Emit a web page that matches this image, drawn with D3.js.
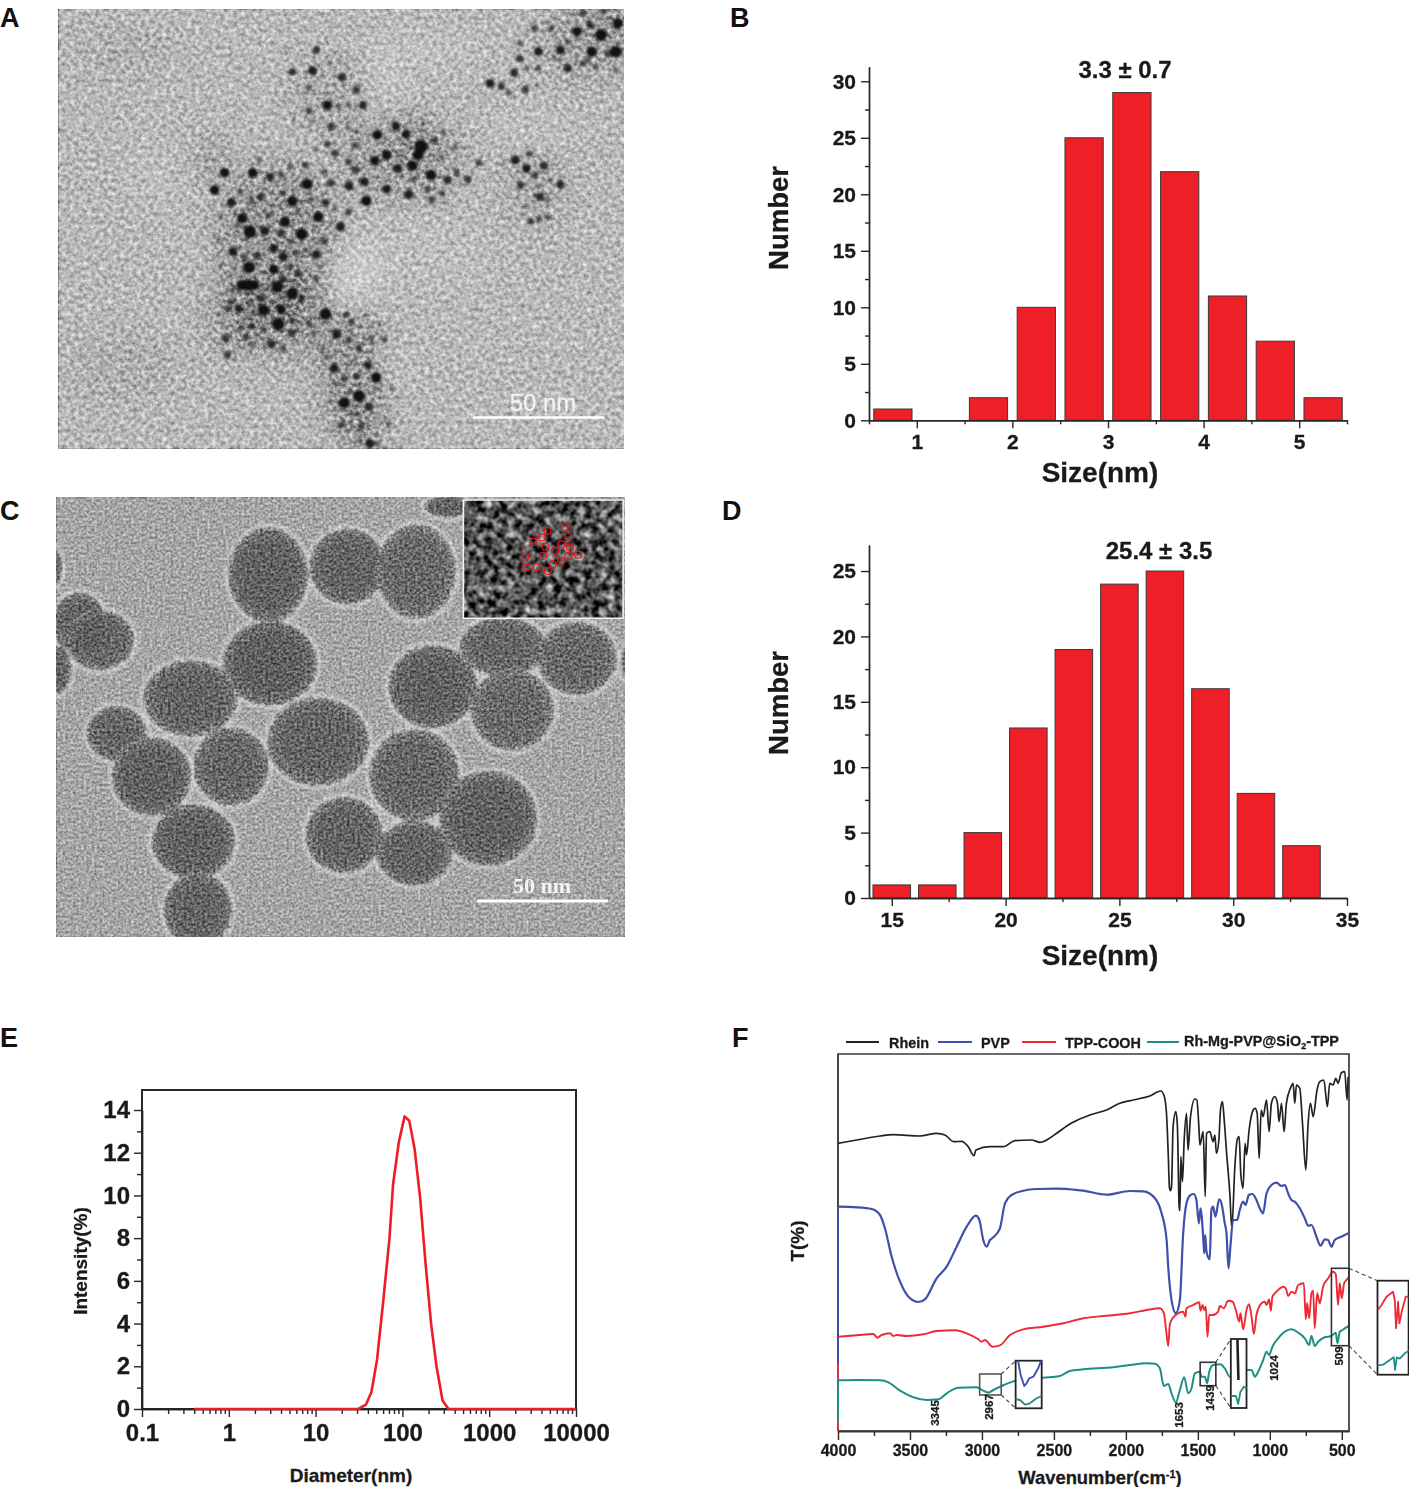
<!DOCTYPE html>
<html>
<head>
<meta charset="utf-8">
<script src="https://cdnjs.cloudflare.com/ajax/libs/d3/7.8.5/d3.min.js"></script>
<style>
    body { margin: 0; background: #fff; }
    svg { display: block; font-family: "Liberation Sans", Arial, sans-serif; }
    .tick text, .label { font-weight: bold; fill: #1a1a1a; stroke: #1a1a1a; stroke-width: 0.3; }
    .axis path, .axis line { stroke: #262626; stroke-width: 1.4; }
</style>
</head>
<body>
<svg id="chart" width="1409" height="1487"></svg>
<script>
// histogram B
const sizeBinsB = [0.75, 1.25, 1.75, 2.25, 2.75, 3.25, 3.75, 4.25, 4.75, 5.25];
const countsB = [1, 0, 2, 10, 25, 29, 22, 11, 7, 2];
const xTicksB = [1, 2, 3, 4, 5];
const yTicksB = [0, 5, 10, 15, 20, 25, 30];

// histogram D
const sizeBinsD = [15, 17, 19, 21, 23, 25, 27, 29, 31, 33];
const countsD = [1, 1, 5, 13, 19, 24, 25, 16, 8, 4];
const xTicksD = [15, 20, 25, 30, 35];
const yTicksD = [0, 5, 10, 15, 20, 25];

// DLS curve E
const diameterE = [0.4, 31, 38, 44, 51, 60, 71, 78, 91, 106, 120, 138, 160, 185, 214, 247, 290, 340, 10000];
const intensityE = [0, 0, 0.2, 0.8, 2.3, 5, 8, 10.5, 12.5, 13.7, 13.5, 12.2, 9.9, 6.8, 4, 2, 0.4, 0, 0];
const xTicksE = [0.1, 1, 10, 100, 1000, 10000];
const yTicksE = [0, 2, 4, 6, 8, 10, 12, 14];

// FTIR spectra F, [wavenumber, T]
const rhein = [[3998,287.7],[3870,291],[3708,295],[3616,296.3],[3431,295],[3315,297.7],[3257,296],[3194,289.3],[3141,289.7],[3095,284.3],[3055,275.3],[3042,281],[2944,284.3],[2852,284.3],[2771,290.3],[2655,291],[2597,288.7],[2539,292],[2481,297.7],[2389,307],[2250,316],[2134,321],[2042,327.7],[1949,331],[1834,335],[1757,340],[1734,335],[1718,317.7],[1706,277.7],[1697,242.7],[1690,240.3],[1683,244.3],[1672,304.3],[1653,319.3],[1642,304.3],[1630,224.3],[1625,220.3],[1618,274.3],[1607,249.3],[1595,291],[1579,317.7],[1568,281],[1551,314.3],[1521,332],[1507,331],[1493,304.3],[1486,286],[1463,299.3],[1449,234.3],[1440,297.7],[1417,299.3],[1394,289.3],[1382,296],[1371,277.7],[1354,291],[1343,321],[1329,329.3],[1317,311],[1301,279.3],[1278,237.7],[1264,202.7],[1243,264.3],[1227,291],[1213,294.3],[1202,257.7],[1186,242.7],[1172,287.7],[1162,276],[1144,301],[1116,321],[1102,322.7],[1088,317.7],[1074,272.7],[1060,321],[1047,314.3],[1023,331],[1005,299.3],[989,327.7],[966,334.3],[947,327.7],[936,309.3],[919,327.7],[901,299.3],[885,327.7],[857,342.7],[838,347.7],[827,327.7],[815,346],[792,342.7],[773,307.7],[750,261],[734,307.7],[718,327.7],[699,314.3],[672,341],[653,349.3],[625,351],[600,324.3],[584,347.7],[560,346],[542,352.7],[526,347.7],[503,358.3],[480,359.3],[463,331],[456,354.3]];
const pvp = [[3998,224.3],[3870,223.7],[3766,222],[3708,216],[3674,202.7],[3627,174.3],[3569,149.3],[3500,132.7],[3442,129],[3396,131.7],[3315,152.7],[3245,164.3],[3176,184.3],[3106,204.3],[3042,215.3],[3018,211],[2991,191],[2968,184.3],[2944,191],[2921,193.7],[2875,202.7],[2840,227.7],[2794,236],[2713,240.3],[2620,242],[2481,242.3],[2296,240.3],[2134,236.3],[1972,240],[1879,239.7],[1798,232.7],[1752,217.7],[1717,191],[1706,164.3],[1683,131],[1653,117.7],[1625,131],[1602,197.7],[1579,227.7],[1551,236],[1528,237],[1510,231],[1493,207.7],[1482,222.7],[1463,194.3],[1456,177.7],[1449,196],[1440,179.3],[1417,171.7],[1406,221],[1394,224.3],[1378,214.3],[1352,231.7],[1336,227.7],[1313,207.7],[1301,197.7],[1287,162.7],[1274,184.3],[1255,211],[1227,211],[1209,221],[1186,229.3],[1169,226],[1146,236],[1121,237],[1093,231],[1070,222.7],[1047,217.7],[1023,237.7],[989,246],[954,248.3],[919,245],[896,246],[873,237.7],[850,231],[827,229.3],[792,222.7],[757,212.7],[734,205.3],[711,206],[676,194.3],[648,185.3],[618,191.7],[595,191],[572,184.3],[549,191],[503,194.3],[456,197.7]];
const tppCooh = [[3998,94.3],[3870,95.7],[3755,97],[3725,93.3],[3697,96],[3639,97.7],[3616,95],[3593,96],[3523,95],[3407,96.7],[3315,100],[3187,100.7],[3106,97.7],[3025,91.7],[3002,89.3],[2979,91],[2926,84.3],[2875,85.7],[2805,96],[2713,101.7],[2574,104.3],[2435,107.7],[2296,112.7],[2134,115.3],[1972,117.7],[1856,121],[1764,122.7],[1736,117.7],[1718,97.7],[1706,85],[1695,106],[1676,112.7],[1602,119.3],[1586,114.3],[1579,122.7],[1532,126],[1491,128.7],[1482,120.3],[1468,126],[1456,121],[1445,124.3],[1433,94.3],[1421,116],[1394,116],[1359,119.3],[1347,125],[1320,122.7],[1290,130.3],[1259,129.3],[1236,121],[1213,109.3],[1204,117.7],[1185,101.7],[1162,121],[1144,126.7],[1127,114.3],[1111,97],[1093,116],[1058,127.7],[1035,129.3],[1023,126],[1005,131.7],[993,120.3],[982,134.3],[954,139.3],[907,144.3],[889,142.7],[873,135],[850,139.3],[826,137.7],[803,146],[764,147.7],[750,111.7],[741,127.7],[727,112.7],[711,137.7],[699,140.3],[688,102.7],[671,137.7],[653,127.7],[630,144.3],[595,152.7],[560,159.3],[542,157],[526,126],[514,147.7],[500,132.7],[484,147.7],[468,151],[451,154.3]];
const rhMgPvp = [[3998,50.7],[3870,51],[3708,50.7],[3650,48.7],[3569,40.3],[3477,33.7],[3384,31],[3303,31.7],[3245,37.7],[3164,43.3],[3037,43.7],[2991,40.3],[2956,38.3],[2921,41],[2863,45],[2771,50],[2574,53.3],[2458,55],[2389,60],[2296,61.7],[2088,63.7],[1972,66],[1856,67.7],[1798,67.3],[1764,62.7],[1736,45],[1706,47],[1683,37.7],[1653,28.7],[1625,41],[1595,53.7],[1567,37.7],[1544,42.7],[1521,57.7],[1486,59.3],[1475,54.3],[1452,54.3],[1435,47.7],[1421,59.3],[1394,66],[1343,66.7],[1313,62.7],[1278,54.3],[1158,61],[1127,61],[1104,54.3],[1081,59.3],[1046,71],[1023,79.3],[1005,76],[982,84.3],[942,92.7],[884,100.3],[850,101.7],[803,98.3],[757,92.7],[727,86],[711,95],[688,85],[664,89.3],[618,93.7],[572,95],[542,98.3],[530,87.7],[514,99.3],[495,101],[479,102.7],[451,105]];
const legendF = ["Rhein", "PVP", "TPP-COOH", "Rh-Mg-PVP@SiO2-TPP"];
const xTicksF = [4000, 3500, 3000, 2500, 2000, 1500, 1000, 500];
// peak labels [text, wavenumber, T]
const peaksF = [["3345", 3349, 18], ["2967", 2969, 24], ["1653", 1653, 16], ["1439", 1435, 33], ["1024", 991, 63], ["509", 537, 75]];
// spine of F: colour of the left edge between two T values
const spineT = [377, 224, 68, 51, 10, 0];
// zoom boxes [wn0, wn1, T0, T1]
const zoomBoxes = [[3016, 2866, 57, 36], [1484, 1375, 68.7, 45.3], [572, 450, 162.7, 85.3]];
const zoomInsets = [[2766, 2585, 70.3, 22.7], [1271, 1162, 92, 23], [252, 36, 150.3, 56.3]];
const insetBlue = [[2748,69.3],[2731,56],[2706,45],[2690,47.7],[2671,52.7],[2643,54.3],[2609,62.7],[2590,70.3]];
const insetTealA = [[2766,32],[2736,31],[2701,26.3],[2667,27.7],[2620,32.7],[2586,35]];
const insetBlack = [[1225,91],[1218,51]];
const insetTealB = [[1266,35],[1236,35],[1220,27],[1204,39.3],[1181,44.3],[1162,42.7]];
const insetRed = [[250,121],[224,126],[190,134.3],[144,139.3],[132,131],[123,102.7],[109,129.3],[100,107.7],[81,121],[56,134.3],[37,134.3]];
const insetTealC = [[252,65.7],[213,66.3],[167,71],[139,73.7],[130,61],[118,73.7],[97,72.3],[63,77.7],[37,80]];

// micrograph A, gold spots [x, y, radius] in frame units
const goldSpots = [[1535,70,14],[1490,105,16],[1530,155,16],[1465,155,14],[1425,95,13],[1460,75,10],[1442,40,9],[1495,35,8],[1400,125,8],[1380,150,12],[1320,155,12],[1310,85,9],[1270,130,8],[1270,175,10],[1400,205,11],[1440,190,8],[1475,200,7],[1530,210,7],[1355,85,8],[1320,205,8],[1290,205,7],[1255,218,11],[1190,250,12],[1220,258,10],[1240,278,8],[1285,268,10],[1315,255,6],[1365,175,6],[1455,180,8],[1510,160,9],
    [720,150,10],[655,215,10],[710,212,12],[790,232,11],[828,270,10],[700,265,8],[750,315,13],[700,332,9],[780,318,7],[808,316,7],[846,316,11],[760,380,10],[710,365,6],[660,355,5],[805,385,6],[830,395,6],[755,185,5],[640,160,5],[790,180,4],
    [885,405,13],[935,378,12],[963,402,12],[1003,440,18],[995,465,14],[980,497,14],[940,505,12],[910,465,13],[878,482,13],[827,510,10],[808,487,9],[825,437,9],[750,433,9],[770,460,10],[720,450,6],[1040,420,9],[1063,397,7],[1010,370,6],[975,340,5],[1095,443,7],[1057,470,6],[1030,525,14],[1075,540,11],[1100,517,9],[1130,538,10],[1160,488,9],[1022,567,9],[970,583,12],[910,567,12],[985,535,8],[1060,580,8],[1033,600,9],[1065,608,6],[855,602,14],[850,545,12],[808,558,12],[808,635,9],[900,340,4],
    [1258,480,12],[1297,462,9],[1288,505,12],[1335,497,11],[1312,525,9],[1380,553,11],[1272,555,10],[1350,540,6],[1320,560,6],[1325,590,11],[1345,598,7],[1310,585,6],[1288,620,6],[1300,663,9],[1322,657,8],[1345,650,8],[1225,490,5],
    [472,518,13],[548,518,13],[595,530,11],[445,570,13],[490,607,12],[515,575,8],[565,478,7],[690,495,9],[650,495,7],[740,515,8],[695,552,15],[760,548,10],[625,525,8],[628,578,8],[570,590,10],[655,603,14],[705,598,8],[745,607,10],[545,605,8],[520,655,14],[590,645,8],[725,650,14],[770,625,6],[635,665,14],[670,630,7],[540,695,17],[580,692,12],[680,703,16],[625,700,10],[650,725,8],[785,680,12],[740,722,9],[505,675,7],[460,650,6],[495,755,12],[525,770,8],[560,765,10],[605,745,12],[630,770,12],[665,760,8],[690,750,7],[720,763,12],[455,718,6],[460,798,6],[538,802,16],[605,808,13],[650,800,9],[670,820,10],[730,800,6],
    [518,855,14],[535,855,16],[552,855,14],[615,860,16],[630,835,10],[655,880,16],[680,895,9],[720,838,8],[495,868,8],[570,895,10],[490,905,8],[540,905,6],[480,925,9],[510,925,11],[578,930,15],[625,928,13],[550,935,7],[745,942,16],[800,945,9],[853,945,6],[815,965,9],[617,972,17],[655,960,9],[545,978,9],[578,988,8],[515,985,7],[475,1015,10],[530,1012,9],[598,1032,11],[545,1035,7],[655,998,10],[700,970,8],[712,1000,7],[628,1045,8],[480,1065,10],[738,1042,7],[775,1003,12],[808,1020,9],[835,1045,9],[868,1015,8],[905,1018,8],[890,975,6],[748,1070,7],[768,1105,12],[795,1135,9],[830,1128,9],[860,1095,11],[882,1132,14],[770,1150,7],[835,1188,16],[795,1208,15],[862,1220,11],[808,1175,6],[880,1165,7],[922,1165,6],[790,1272,9],[842,1278,9],[915,1270,7],[865,1330,12],[838,1322,7],[885,1330,7],[830,1240,7]];
// soft shading of the film [x, y, rx, ry, strength]
const darkFilm = [[620,720,170,230,.18],[500,950,80,120,.15],[640,960,130,110,.18],[820,1130,90,200,.18],[950,480,170,130,.13],[760,290,110,130,.08],[1310,560,90,120,.08],[1450,120,130,120,.12],[1540,60,60,60,.2],[440,480,40,50,.2],[850,1290,70,60,.12],[980,440,40,50,.25],[200,150,120,60,.05],[200,1100,150,100,.05]];
const brightFilm = [[810,820,70,110,.3],[930,1100,40,70,.22],[900,260,60,80,.18],[1000,150,180,60,.12],[1300,400,120,60,.12],[280,520,80,100,.08],[1000,760,200,120,.08]];

// micrograph C, silica spheres [x, y, rx, ry, density]
const silicaSpheres = [[590,255,105,140,.9],[805,230,100,112,.8],[990,245,105,140,.55],[595,520,125,125,1],[80,400,70,90,.8],[135,450,90,88,.7],[0,230,30,60,.7],[20,540,35,70,.7],[380,625,125,112,.8],[180,730,78,80,.65],[275,860,105,115,.9],[490,830,100,115,.7],[725,755,135,130,.8],[1035,590,118,122,.9],[1225,470,115,85,.7],[1425,505,105,108,.55],[1250,660,110,120,.5],[985,855,120,135,.65],[1185,985,130,140,.9],[795,1035,102,112,.75],[985,1090,100,95,.8],[388,1055,110,110,.9],[400,1260,90,110,.75],[1075,50,60,30,.8],[1562,520,15,50,.5]];
// pore rings in the inset of C
const poreRings = [[1393,110],[1345,123],[1330,142],[1307,156],[1402,140],[1340,170],[1383,163],[1406,172],[1366,182],[1333,198],[1285,200],[1428,194],[1402,198],[1382,212],[1360,223],[1288,232],[1316,232],[1346,243]];

const BAR_RED = "#ee1f27";
const svg = d3.select("#chart");
const defs = svg.append("defs");

const addNoise = (id, freq, octaves, seed, gain, offset, box) => {
    const f = defs.append("filter").attr("id", id)
        .attr("filterUnits", "userSpaceOnUse").attr("color-interpolation-filters", "sRGB")
        .attr("x", box[0]).attr("y", box[1]).attr("width", box[2]).attr("height", box[3]);
    f.append("feTurbulence").attr("type", "fractalNoise")
        .attr("baseFrequency", freq).attr("numOctaves", octaves).attr("seed", seed);
    f.append("feColorMatrix").attr("type", "matrix")
        .attr("values", `${gain} 0 0 0 ${offset} ${gain} 0 0 0 ${offset} ${gain} 0 0 0 ${offset} 0 0 0 0 1`);
    f.append("feGaussianBlur").attr("stdDeviation", 0.6);
};

const addBlur = (id, dev) => {
    defs.append("filter").attr("id", id)
        .attr("x", "-50%").attr("y", "-50%").attr("width", "200%").attr("height", "200%")
        .append("feGaussianBlur").attr("stdDeviation", dev);
};

const addRough = (id, freq, scale, dev) => {
    const f = defs.append("filter").attr("id", id)
        .attr("filterUnits", "userSpaceOnUse").attr("color-interpolation-filters", "sRGB")
        .attr("x", 40).attr("y", 480).attr("width", 600).attr("height", 470);
    f.append("feTurbulence").attr("type", "fractalNoise")
        .attr("baseFrequency", freq).attr("numOctaves", 2).attr("seed", 4).attr("result", "n");
    f.append("feDisplacementMap").attr("in", "SourceGraphic").attr("in2", "n")
        .attr("scale", scale).attr("result", "d");
    f.append("feGaussianBlur").attr("in", "d").attr("stdDeviation", dev);
};

const clipRect = (id, x, y, w, h) => {
    defs.append("clipPath").attr("id", id).append("rect")
        .attr("x", x).attr("y", y).attr("width", w).attr("height", h);
};

const label = (text, x, y, size, rotate) => {
    const t = svg.append("text").attr("class", "label")
        .attr("text-anchor", "middle").attr("font-size", size).text(text);
    if (rotate) {
        t.attr("transform", `translate(${x},${y}) rotate(-90)`);
    } else {
        t.attr("x", x).attr("y", y);
    }
    return t;
};

const panelLetters = [["A", 0, 27], ["B", 730, 27], ["C", 0, 520], ["D", 722, 520], ["E", 0, 1047], ["F", 732, 1047]];
panelLetters.forEach(([t, x, y]) => {
    svg.append("text").attr("x", x).attr("y", y)
        .attr("font-size", 27).attr("font-weight", "bold").attr("fill", "#111").text(t);
});

// ---- panel A
const drawMicrographA = () => {
    const box = [58.9, 9.3, 565.1, 439.2];
    const x = d3.scaleLinear().domain([24, 1552]).range([box[0], box[0] + box[2]]);
    const y = d3.scaleLinear().domain([28, 1345]).range([box[1], box[1] + box[3]]);
    clipRect("clipA", ...box);
    addBlur("soft", 14);
    addBlur("spot", 0.8);
    addNoise("grainA", 0.24, 3, 7, 1.05, -0.02, box);
    const g = svg.append("g").attr("clip-path", "url(#clipA)").style("isolation", "isolate");
    g.append("rect").attr("x", box[0]).attr("y", box[1]).attr("width", box[2]).attr("height", box[3])
        .attr("fill", "#b8b8b8");
    const patches = (data, colour) => {
        g.append("g").attr("filter", "url(#soft)").selectAll("ellipse").data(data).enter().append("ellipse")
            .attr("cx", d => x(d[0])).attr("cy", d => y(d[1]))
            .attr("rx", d => d[2] / 2.7).attr("ry", d => d[3] / 3)
            .attr("fill", colour).attr("opacity", d => d[4]);
    };
    patches(darkFilm, "#000");
    patches(brightFilm, "#fff");
    g.append("rect").attr("x", box[0]).attr("y", box[1]).attr("width", box[2]).attr("height", box[3])
        .attr("filter", "url(#grainA)").style("mix-blend-mode", "overlay");
    const ink = d3.scaleLinear().domain([4, 13]).range([0.35, 0.97]).clamp(true);
    g.append("g").attr("filter", "url(#spot)").selectAll("circle").data(goldSpots).enter().append("circle")
        .attr("cx", d => x(d[0])).attr("cy", d => y(d[1])).attr("r", d => d[2] / 2.7)
        .attr("fill", "#0c0c0c").attr("opacity", d => ink(d[2]));
    svg.append("line").attr("x1", 473).attr("x2", 604).attr("y1", 417.5).attr("y2", 417.5)
        .attr("stroke", "#fff").attr("stroke-width", 2.5);
    svg.append("text").attr("x", 543).attr("y", 411).attr("text-anchor", "middle")
        .attr("font-size", 24).attr("fill", "#f2f2f2").attr("stroke", "#f2f2f2").attr("stroke-width", 0.3).text("50 nm");
};

// ---- panel C
const drawMicrographC = () => {
    const box = [56.6, 497.3, 568.4, 439.4];
    const x = d3.scaleLinear().domain([18, 1555]).range([box[0], box[0] + box[2]]);
    const y = d3.scaleLinear().domain([22, 1340]).range([box[1], box[1] + box[3]]);
    clipRect("clipC", ...box);
    addNoise("grainC", 0.38, 2, 11, 0.85, 0.07, box);
    addRough("rough", 0.28, 5, 1.0);
    addRough("roughHalo", 0.2, 5, 1.4);
    const grad = defs.append("radialGradient").attr("id", "sphereFill");
    [[0, "#5e5e5e"], [0.7, "#626262"], [0.92, "#727272"], [1, "#8a8a8a"]].forEach(([o, c]) => {
        grad.append("stop").attr("offset", o).attr("stop-color", c);
    });
    const g = svg.append("g").attr("clip-path", "url(#clipC)").style("isolation", "isolate");
    g.append("rect").attr("x", box[0]).attr("y", box[1]).attr("width", box[2]).attr("height", box[3])
        .attr("fill", "#a6a6a6");
    g.append("g").attr("filter", "url(#roughHalo)").selectAll("ellipse").data(silicaSpheres).enter().append("ellipse")
        .attr("cx", d => x(d[0])).attr("cy", d => y(d[1]))
        .attr("rx", d => (d[2] + 12) / 2.7).attr("ry", d => (d[3] + 13) / 3)
        .attr("fill", "#cdcdcd");
    const body = d3.scaleLinear().domain([0, 1]).range([0.82, 1]);
    g.append("g").attr("filter", "url(#rough)").selectAll("ellipse").data(silicaSpheres).enter().append("ellipse")
        .attr("cx", d => x(d[0])).attr("cy", d => y(d[1]))
        .attr("rx", d => (d[2] + 3) / 2.7).attr("ry", d => (d[3] + 3) / 3)
        .attr("fill", "url(#sphereFill)").attr("opacity", d => body(d[4]));
    g.append("rect").attr("x", box[0]).attr("y", box[1]).attr("width", box[2]).attr("height", box[3])
        .attr("filter", "url(#grainC)").style("mix-blend-mode", "overlay");

    // inset
    const ix = x(1118), iy = y(30), iw = x(1550) - ix, ih = y(385) - iy;
    addNoise("grainInset", 0.13, 2, 21, 1.45, -0.4, [ix, iy, iw, ih]);
    g.append("rect").attr("x", ix).attr("y", iy).attr("width", iw).attr("height", ih)
        .attr("filter", "url(#grainInset)");
    g.append("rect").attr("x", ix).attr("y", iy).attr("width", iw).attr("height", ih)
        .attr("fill", "none").attr("stroke", "#f2f2f2").attr("stroke-width", 1.6);
    g.append("g").selectAll("circle").data(poreRings).enter().append("circle")
        .attr("cx", d => x(d[0])).attr("cy", d => y(d[1])).attr("r", 3.5)
        .attr("fill", "none").attr("stroke", "#e8141c").attr("stroke-width", 1.2);

    svg.append("line").attr("x1", 477).attr("x2", 608).attr("y1", 901).attr("y2", 901)
        .attr("stroke", "#fff").attr("stroke-width", 3);
    svg.append("text").attr("x", 542).attr("y", 893).attr("text-anchor", "middle")
        .attr("font-family", "Liberation Serif, serif").attr("font-weight", "bold")
        .attr("font-size", 22).attr("fill", "#f4f4f4").text("50 nm");
};

// ---- panels B and D
const drawHistogram = ({ bins, counts, xTicks, yTicks, xDomain, xRange, yDomain, yRange, barWidth, minorX, minorY, title, titleX, titleY, labelY, xLabelY }) => {
    const x = d3.scaleLinear().domain(xDomain).range(xRange);
    const y = d3.scaleLinear().domain(yDomain).range(yRange);

    svg.append("g").selectAll("rect").data(bins).enter().append("rect")
        .attr("x", d => x(d - barWidth / 2))
        .attr("width", x(barWidth) - x(0))
        .attr("y", (d, i) => y(counts[i]))
        .attr("height", (d, i) => y(0) - y(counts[i]))
        .attr("fill", BAR_RED).attr("stroke", "#3a3a3a").attr("stroke-width", 1);

    svg.append("g").attr("class", "axis").attr("transform", `translate(0,${yRange[0]})`)
        .call(d3.axisBottom(x).tickValues(minorX).tickSize(4).tickSizeOuter(0).tickFormat(""));
    svg.append("g").attr("class", "axis").attr("transform", `translate(${xRange[0]},0)`)
        .call(d3.axisLeft(y).tickValues(minorY).tickSize(4).tickSizeOuter(0).tickFormat(""));
    svg.append("g").attr("class", "axis").attr("transform", `translate(0,${yRange[0]})`)
        .call(d3.axisBottom(x).tickValues(xTicks).tickSize(8).tickPadding(6).tickSizeOuter(0).tickFormat(d3.format("d")))
        .selectAll("text").attr("font-size", 21).attr("font-family", null);
    svg.append("g").attr("class", "axis").attr("transform", `translate(${xRange[0]},0)`)
        .call(d3.axisLeft(y).tickValues(yTicks).tickSize(8).tickPadding(5).tickSizeOuter(0))
        .selectAll("text").attr("font-size", 21).attr("font-family", null);

    label("Number", 788, labelY, 27.5, true);
    label("Size(nm)", 1100, xLabelY, 28);
    label(title, titleX, titleY, 24);
};

// ---- panel E
const drawDls = () => {
    const x = d3.scaleLog().domain([0.1, 10000]).range([142, 576]);
    const y = d3.scaleLinear().domain([0, 14]).range([1409, 1110]);
    const top = 1090;

    svg.append("rect").attr("x", 142).attr("y", top).attr("width", 434).attr("height", 1409 - top)
        .attr("fill", "none").attr("stroke", "#262626").attr("stroke-width", 2);

    const minorX = x.ticks().filter(d => !xTicksE.some(t => Math.abs(t - d) < t * 0.001));
    svg.append("g").attr("class", "axis").attr("transform", "translate(0,1409)")
        .call(d3.axisBottom(x).tickValues(minorX).tickSize(5).tickSizeOuter(0).tickFormat(""));
    svg.append("g").attr("class", "axis").attr("transform", "translate(142,0)")
        .call(d3.axisLeft(y).tickValues(d3.range(1, 15, 2)).tickSize(5).tickSizeOuter(0).tickFormat(""));
    svg.append("g").attr("class", "axis").attr("transform", "translate(0,1409)")
        .call(d3.axisBottom(x).tickValues(xTicksE).tickSize(8).tickPadding(7).tickSizeOuter(0).tickFormat(d => d))
        .selectAll("text").attr("font-size", 24).attr("font-family", null);
    svg.append("g").attr("class", "axis").attr("transform", "translate(142,0)")
        .call(d3.axisLeft(y).tickValues(yTicksE).tickSize(8).tickPadding(4).tickSizeOuter(0))
        .selectAll("text").attr("font-size", 24).attr("font-family", null);

    const line = d3.line().x(d => x(d)).y((d, i) => y(intensityE[i]));
    svg.append("path").attr("d", line(diameterE)).attr("fill", "none")
        .attr("stroke", "#ee1c25").attr("stroke-width", 2.6).attr("stroke-linejoin", "round");

    label("Intensity(%)", 87, 1261, 19, true);
    label("Diameter(nm)", 351, 1482, 19);
};

// ---- panel F
const drawSpectra = () => {
    const x = d3.scaleLinear().domain([4000, 450]).range([838, 1349]);
    const y = d3.scaleLinear().domain([0, 377]).range([1431, 1054]);
    const colours = { black: "#222222", blue: "#3e50aa", red: "#ee2a35", teal: "#1f8f85" };
    const line = d3.line().x(d => x(d[0])).y(d => y(d[1])).curve(d3.curveMonotoneX);
    const rawLine = d3.line().x(d => x(d[0])).y(d => y(d[1]));

    svg.append("g").attr("class", "axis").attr("transform", "translate(0,1431)")
        .call(d3.axisBottom(x).tickValues(d3.range(3750, 500, -500)).tickSize(5).tickSizeOuter(0).tickFormat(""));
    svg.append("g").attr("class", "axis").attr("transform", "translate(0,1431)")
        .call(d3.axisBottom(x).tickValues(xTicksF).tickSize(9).tickPadding(5).tickSizeOuter(0).tickFormat(d3.format("d")))
        .selectAll("text").attr("font-size", 16).attr("font-family", null);

    svg.append("path")
        .attr("d", `M${x(4000)},${y(0)}V${y(377)}H${x(450)}V${y(0)}H${x(4000)}`)
        .attr("fill", "none").attr("stroke", "#3a3a3a").attr("stroke-width", 1.7);

    const spineColours = ["#444", colours.blue, "#e2353d", colours.teal, "#e2353d"];
    spineColours.forEach((c, i) => {
        svg.append("line").attr("x1", x(4000)).attr("x2", x(4000))
            .attr("y1", y(spineT[i])).attr("y2", y(spineT[i + 1]))
            .attr("stroke", c).attr("stroke-width", 1.8);
    });

    const spectrum = (data, colour, width) => {
        svg.append("path").attr("d", line(data)).attr("fill", "none")
            .attr("stroke", colour).attr("stroke-width", width).attr("stroke-linejoin", "round");
    };
    spectrum(rhein, colours.black, 1.7);
    spectrum(pvp, colours.blue, 2.2);
    spectrum(tppCooh, colours.red, 1.9);
    spectrum(rhMgPvp, colours.teal, 2);

    // zoom boxes with their enlarged views
    const boxStroke = ["#555", "#333", "#333"];
    zoomBoxes.forEach((b, i) => {
        const v = zoomInsets[i];
        [[b[1], b[2], v[0], v[2]], [b[1], b[3], v[0], v[3]]].forEach(c => {
            svg.append("line").attr("x1", x(c[0])).attr("y1", y(c[1])).attr("x2", x(c[2])).attr("y2", y(c[3]))
                .attr("stroke", "#444").attr("stroke-width", 1.1).attr("stroke-dasharray", "4,3");
        });
        svg.append("rect").attr("x", x(b[0])).attr("y", y(b[2]))
            .attr("width", x(b[1]) - x(b[0])).attr("height", y(b[3]) - y(b[2]))
            .attr("fill", "none").attr("stroke", boxStroke[i]).attr("stroke-width", 1.6);
        svg.append("rect").attr("x", x(v[0])).attr("y", y(v[2]))
            .attr("width", x(v[1]) - x(v[0])).attr("height", y(v[3]) - y(v[2]))
            .attr("fill", "#fff").attr("stroke", "#222").attr("stroke-width", 1.8);
    });
    const mini = (data, colour, width) => {
        svg.append("path").attr("d", rawLine(data)).attr("fill", "none")
            .attr("stroke", colour).attr("stroke-width", width).attr("stroke-linejoin", "round");
    };
    mini(insetBlue, colours.blue, 1.9);
    mini(insetTealA, colours.teal, 1.8);
    mini(insetBlack, "#222", 2.6);
    mini(insetTealB, colours.teal, 1.8);
    mini(insetRed, colours.red, 1.8);
    mini(insetTealC, colours.teal, 1.8);

    peaksF.forEach(([t, wn, v]) => {
        label(t, x(wn) + 7, y(v), 11.5, true);
    });

    // legend
    const swatchX = [[846, 879], [938, 972], [1022, 1056], [1147, 1179]];
    const textX = [889, 981, 1065, 1184];
    const legendColours = [colours.black, colours.blue, colours.red, colours.teal];
    legendF.forEach((name, i) => {
        svg.append("line").attr("x1", swatchX[i][0]).attr("x2", swatchX[i][1]).attr("y1", 1042).attr("y2", 1042)
            .attr("stroke", legendColours[i]).attr("stroke-width", 2);
        const t = svg.append("text").attr("class", "label").attr("x", textX[i]).attr("y", i === 3 ? 1046 : 1048)
            .attr("font-size", 14.4);
        if (name.includes("SiO2")) {
            const [a, b] = name.split("SiO2");
            t.append("tspan").text(a + "SiO");
            t.append("tspan").attr("font-size", 9).attr("dy", 3).text("2");
            t.append("tspan").attr("dy", -3).text(b);
        } else {
            t.text(name);
        }
    });

    label("T(%)", 804, 1241, 19, true);
    const xl = label("", 1100, 1484, 18.4);
    xl.append("tspan").text("Wavenumber(cm");
    xl.append("tspan").attr("font-size", 11).attr("dy", -6).text("-1");
    xl.append("tspan").attr("dy", 6).text(")");
};

drawMicrographA();
drawMicrographC();
drawHistogram({
    bins: sizeBinsB, counts: countsB, xTicks: xTicksB, yTicks: yTicksB,
    xDomain: [0.5, 5.5], xRange: [869, 1347], yDomain: [0, 31.29], yRange: [420.3, 66.7],
    barWidth: 0.4, minorX: d3.range(0.5, 6, 1), minorY: d3.range(2.5, 31, 5),
    title: "3.3 ± 0.7", titleX: 1125, titleY: 78, labelY: 218, xLabelY: 482
});
drawHistogram({
    bins: sizeBinsD, counts: countsD, xTicks: xTicksD, yTicks: yTicksD,
    xDomain: [14, 35], xRange: [869, 1347], yDomain: [0, 26.99], yRange: [898, 545],
    barWidth: 1.65, minorX: d3.range(17.5, 35, 5), minorY: d3.range(2.5, 27, 5),
    title: "25.4 ± 3.5", titleX: 1159, titleY: 559, labelY: 703, xLabelY: 965
});
drawDls();
drawSpectra();
</script>
</body>
</html>
